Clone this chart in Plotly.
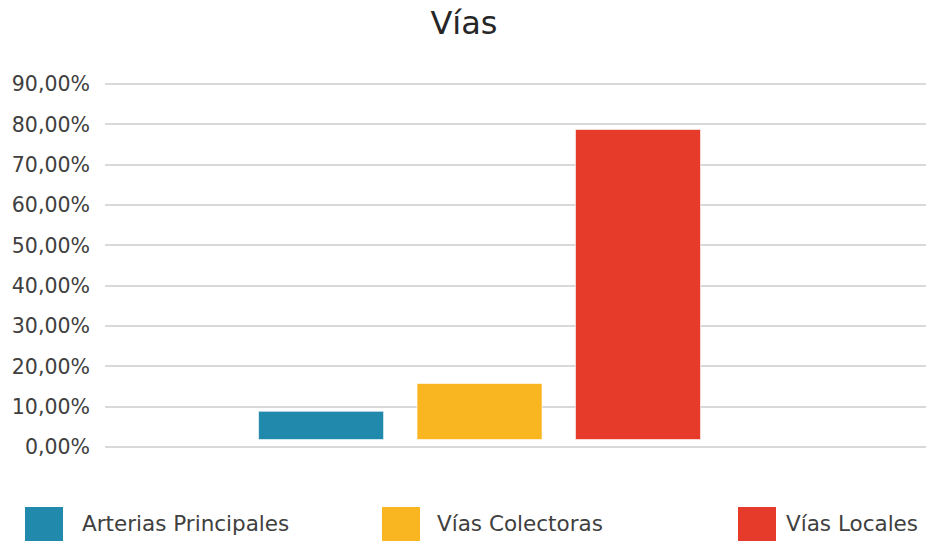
import plotly.graph_objects as go

# ---- data ----
series_names = ["Arterias Principales", "Vías Colectoras", "Vías Locales"]
series_values = [0.070, 0.139, 0.769]          # bar heights (share)
bar_base = 0.0184                              # bars start slightly above the 0 line in the original
series_colors = ["#2189AC", "#F9B621", "#E63A2B"]
tick_values = [0, 0.1, 0.2, 0.3, 0.4, 0.5, 0.6, 0.7, 0.8, 0.9]
tick_labels = ["0,00%", "10,00%", "20,00%", "30,00%", "40,00%",
               "50,00%", "60,00%", "70,00%", "80,00%", "90,00%"]
title_text = "Vías"

W, H = 928, 541
ML, MR, MT, MB = 105, 2, 80, 90
FONT = "DejaVu Sans"
TXT = "#404040"

fig = go.Figure()
for name, val, col in zip(series_names, series_values, series_colors):
    fig.add_trace(go.Bar(
        x=[name], y=[val], base=[bar_base], name=name,
        marker=dict(color=col, line=dict(color="rgba(255,255,255,0.6)", width=1)),
        showlegend=False, hoverinfo="name+y",
    ))

fig.update_layout(
    width=W, height=H,
    margin=dict(l=ML, r=MR, t=MT, b=MB, autoexpand=False),
    paper_bgcolor="white", plot_bgcolor="white",
    barmode="overlay", bargap=0.211,
    font=dict(family=FONT, color=TXT, size=20),
    title=dict(text=title_text, x=0.5, xref="container", xanchor="center",
               y=0.978, yref="container", yanchor="top",
               font=dict(family=FONT, size=32, color="#262626")),
    xaxis=dict(type="category", categoryorder="array", categoryarray=series_names,
               range=[-1.3636, 3.8176], showticklabels=False, showgrid=False,
               zeroline=False, showline=False, ticks="", automargin=False),
    yaxis=dict(range=[-0.01, 0.91], tickvals=tick_values, ticktext=tick_labels,
               showgrid=True, gridcolor="#D9D9D9", gridwidth=2,
               zeroline=False, showline=False, ticks="", automargin=False,
               ticklabelstandoff=14,
               tickfont=dict(family=FONT, size=20.5, color=TXT)),
)

# custom legend (large swatches like the original), positioned in paper coordinates
plot_w = W - ML - MR
plot_h = H - MT - MB
def px_x(px):
    return (px - ML) / plot_w
def px_y(py):
    return (H - MB - py) / plot_h

legend_box_x = [25, 382, 738]
legend_text_x = [80, 435, 784]
for name, col, bx, tx in zip(series_names, series_colors, legend_box_x, legend_text_x):
    fig.add_shape(type="rect", xref="paper", yref="paper",
                  x0=px_x(bx), x1=px_x(bx + 38), y0=px_y(545), y1=px_y(507),
                  fillcolor=col, line=dict(width=0))
    fig.add_annotation(text=name, xref="paper", yref="paper",
                       x=px_x(tx), y=px_y(523), xanchor="left", yanchor="middle",
                       showarrow=False, font=dict(family=FONT, size=21.5, color=TXT))

fig.write_html("out.html", config={"displayModeBar": False},
               post_script="document.body.style.margin='0';")
